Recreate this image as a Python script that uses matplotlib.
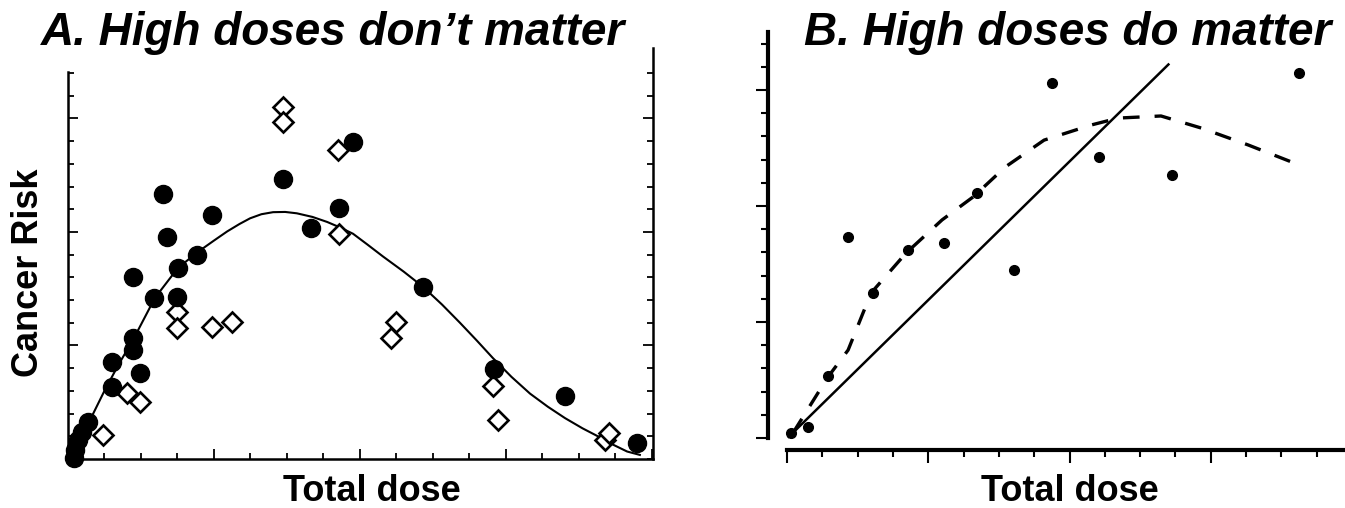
import matplotlib
matplotlib.use("Agg")
import matplotlib.pyplot as plt
from matplotlib.ticker import MultipleLocator, FixedLocator

plt.rcParams["font.family"] = ["Liberation Sans", "DejaVu Sans"]

# ---- panel A data (axis units: x ticks 0..16, y ticks 0..18) ----
a_filled_x = [0.16, 0.19, 0.27, 0.38, 0.55, 1.21, 1.21, 1.97, 1.78, 1.78, 1.78, 2.36, 2.60,
              2.71, 2.99, 3.01, 3.53, 3.95, 5.89, 6.66, 7.42, 7.81, 9.73, 11.67, 13.62, 15.59]
a_filled_y = [0.04, 0.40, 0.84, 1.19, 1.63, 3.17, 4.27, 3.78, 4.80, 5.33, 8.02, 7.09, 11.67,
              9.78, 7.14, 8.41, 8.99, 10.75, 12.33, 10.18, 11.06, 13.96, 7.58, 3.96, 2.78, 0.70]
a_open_x = [0.96, 1.62, 1.97, 2.99, 2.99, 3.95, 4.49, 5.89, 5.89, 7.40, 7.42, 8.85, 8.99,
            11.64, 11.78, 14.71, 14.82]
a_open_y = [1.06, 2.91, 2.51, 6.48, 5.77, 5.81, 6.04, 15.51, 14.85, 13.61, 9.91, 5.33, 6.04,
            3.22, 1.72, 0.84, 1.15]
a_curve_x = [0.0, 0.47, 1.01, 1.40, 1.78, 2.38, 3.01, 3.56, 4.00, 4.36, 4.70, 4.99, 5.30,
             5.62, 5.95, 6.27, 6.70, 7.10, 7.45, 7.81, 8.20, 8.63, 9.20, 9.73, 10.25, 10.74,
             11.20, 11.64, 12.15, 12.66, 13.15, 13.62, 14.10, 14.58, 14.95, 15.32, 15.67]
a_curve_y = [0.0, 1.28, 3.04, 4.20, 5.24, 7.09, 8.41, 9.12, 9.62, 10.02, 10.35, 10.60, 10.78,
             10.87, 10.88, 10.82, 10.66, 10.44, 10.20, 9.92, 9.45, 8.92, 8.25, 7.58, 6.80, 6.00,
             5.22, 4.45, 3.62, 2.88, 2.30, 1.80, 1.35, 0.95, 0.62, 0.33, 0.18]

# ---- panel B data ----
b_pts_x = [0.11, 0.59, 1.16, 1.73, 2.44, 3.43, 4.45, 5.38, 6.43, 7.51, 8.84, 10.91, 14.50]
b_pts_y = [0.22, 0.47, 2.67, 8.66, 6.25, 8.10, 8.41, 10.56, 7.24, 15.30, 12.11, 11.34, 15.73]
b_linear_x = [0.05, 10.80]
b_linear_y = [0.05, 16.10]
b_dash_x = [0.17, 1.16, 1.73, 2.38, 3.37, 4.39, 5.27, 6.18, 7.28, 8.61, 9.38, 10.59, 11.73,
            13.06, 14.50]
b_dash_y = [0.22, 2.63, 3.79, 6.25, 7.97, 9.40, 10.39, 11.68, 12.84, 13.49, 13.79, 13.88,
            13.36, 12.63, 11.77]

W, H = 1345, 508
fig = plt.figure(figsize=(W / 100, H / 100), dpi=100)

# ---------------- panel A ----------------
axA = fig.add_axes([68 / W, (H - 459) / H, 585 / W, 411 / H])
axA.plot(a_curve_x, a_curve_y, color="black", lw=1.5, zorder=2)
axA.plot(a_open_x, a_open_y, ls="none", marker="D", ms=10, mfc="white",
         mec="black", mew=1.9, zorder=3)
axA.plot(a_filled_x, a_filled_y, ls="none", marker="o", ms=13, color="black", zorder=4)
axA.set_xlim(0, 16.03)
axA.set_ylim(0, 18.1)
axA.xaxis.set_major_locator(MultipleLocator(4))
axA.xaxis.set_minor_locator(MultipleLocator(1))
axA.yaxis.set_major_locator(FixedLocator([5, 10, 15]))
axA.yaxis.set_minor_locator(FixedLocator(list(range(0, 18))))
axA.tick_params(which="both", direction="in", left=True, right=True, bottom=True,
                labelleft=False, labelbottom=False, width=1.3)
axA.tick_params(which="major", length=7)
axA.tick_params(which="minor", length=4)
axA.spines["top"].set_visible(False)
axA.spines["left"].set_bounds(0, 17.05)
for s in ("left", "right", "bottom"):
    axA.spines[s].set_linewidth(1.8)
for art in axA.lines:
    art.set_clip_on(False)

# ---------------- panel B ----------------
axB = fig.add_axes([787 / W, (H - 438) / H, 558 / W, 406 / H])
axB.plot(b_linear_x, b_linear_y, color="black", lw=1.8, zorder=2)
axB.plot(b_dash_x, b_dash_y, color="black", lw=2.4, dashes=(5, 4.5), zorder=2)
axB.plot(b_pts_x, b_pts_y, ls="none", marker="o", ms=7, color="black", zorder=3)
axB.set_xlim(0, 15.8)
axB.set_ylim(0, 17.5)
axB.xaxis.set_major_locator(MultipleLocator(4))
axB.xaxis.set_minor_locator(MultipleLocator(1))
axB.yaxis.set_major_locator(MultipleLocator(5))
axB.yaxis.set_minor_locator(MultipleLocator(1))
axB.tick_params(which="both", direction="out", labelleft=False, labelbottom=False, width=1.5)
axB.tick_params(which="major", length=9)
axB.tick_params(which="minor", length=5)
axB.spines["top"].set_visible(False)
axB.spines["right"].set_visible(False)
axB.spines["left"].set_position(("outward", 13.5))
axB.spines["bottom"].set_position(("outward", 8.6))
axB.spines["left"].set_linewidth(3)
axB.spines["bottom"].set_linewidth(3)
for art in axB.lines:
    art.set_clip_on(False)

# ---------------- text ----------------
title_kw = dict(fontsize=33, fontweight="bold", fontstyle="italic", ha="center", va="baseline")
fig.text(333 / W, 1 - 45 / H, "A. High doses don\u2019t matter", **title_kw)
fig.text(1068 / W, 1 - 45 / H, "B. High doses do matter", **title_kw)

lab_kw = dict(fontsize=26, fontweight="bold", ha="center")
fig.text(372 / W, 1 - 501 / H, "Total dose", va="baseline", **lab_kw)
fig.text(1070 / W, 1 - 501 / H, "Total dose", va="baseline", **lab_kw)
fig.text(29 / W, 1 - 273 / H, "Cancer Risk", rotation=90, va="center", **lab_kw)

fig.savefig("out.png", dpi=100)
